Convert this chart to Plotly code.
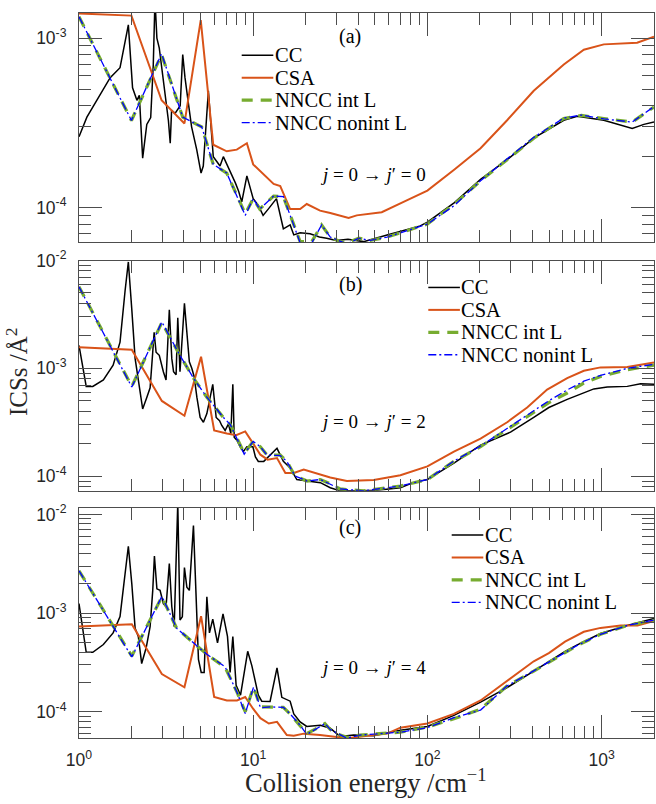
import math
import plotly.graph_objects as go

SERIF = "Liberation Serif"
SANS = "Liberation Sans"

# ---- panel (a): j=0 -> j'=0 ----
e_cc_a = [1.0, 1.11, 1.51, 1.72, 1.92, 2.03, 2.15, 2.22, 2.32, 2.45, 2.58, 2.67, 2.73, 2.80, 2.89,
          3.19, 3.26, 3.34, 3.4, 3.56, 3.81, 3.94, 4.06, 4.25, 4.43, 4.74, 5.02, 5.17, 5.41, 5.53,
          5.9, 6.45, 6.74, 7.54, 7.9, 8.25, 8.6, 9.2, 10.0, 10.7, 11.4, 12.2, 13.6, 14.9, 16.3,
          17.1, 18.6, 21.2, 24, 26.4, 30, 35, 43, 58.7, 73, 91, 100, 143, 202, 287, 408, 607,
          725, 1030, 1500, 1750, 2000]
s_cc_a = [2.62e-4, 3.42e-4, 5.85e-4, 6.7e-4, 1.2e-3, 5.1e-4, 4.3e-4, 4.6e-4, 1.96e-4, 3.1e-4,
          3.4e-4, 7.0e-4, 1.7e-3, 1.0e-3, 8.75e-4, 3.9e-4, 3.27e-4, 2.4e-4, 3.75e-4, 3.6e-4,
          4.0e-4, 8.0e-4, 5.85e-4, 4.1e-4, 3.0e-4, 2.2e-4, 1.6e-4, 1.76e-4, 3.4e-4, 4.9e-4,
          2.0e-4, 1.76e-4, 2.0e-4, 1.57e-4, 1.4e-4, 1.25e-4, 1.08e-4, 1.54e-4, 1.13e-4, 1.03e-4,
          9.0e-5, 9.8e-5, 1.13e-4, 7.5e-5, 7.9e-5, 6.9e-5, 7.1e-5, 7.0e-5, 6.7e-5, 6.6e-5,
          6.4e-5, 6.5e-5, 6.3e-5, 6.9e-5, 7.3e-5, 7.8e-5, 8.2e-5, 1.07e-4, 1.47e-4, 1.92e-4,
          2.57e-4, 3.28e-4, 3.46e-4, 3.28e-4, 2.93e-4, 3.1e-4, 3.2e-4]

e_csa_a = [1.0, 2.0, 2.98, 4.03, 5.0, 5.9, 7.05, 8.05, 9.2, 10.0, 13.1, 14.3, 16.3, 18.6, 20.3,
           24.2, 27.7, 35.3, 39.3, 54.7, 73, 100, 143, 202, 287, 408, 607, 791, 1030, 1600, 2000]
s_csa_a = [1.4e-3, 1.36e-3, 4.3e-4, 3.14e-4, 1.28e-3, 2.35e-4, 2.15e-4, 2.2e-4, 2.4e-4, 1.8e-4,
           1.38e-4, 1.34e-4, 9.8e-5, 9.8e-5, 1.05e-4, 9.6e-5, 9.3e-5, 8.7e-5, 9.0e-5, 9.4e-5,
           1.08e-4, 1.26e-4, 1.68e-4, 2.24e-4, 3.28e-4, 4.9e-4, 7.0e-4, 8.55e-4, 9.2e-4, 9.4e-4,
           1.02e-3]

e_nn_a = [1.0, 2.0, 2.98, 3.64, 3.94, 4.74, 5.06, 5.9, 7.05, 9.0, 10.0, 10.9, 13.1, 14.9, 17.1,
          18.6, 21.7, 24.7, 27.7, 31.5, 34.5, 40.4, 47, 58.7, 73, 100, 143, 202, 287, 408, 607,
          766, 1030, 1500, 2000]
s_int_a = [1.34e-3, 3.27e-4, 8.0e-4, 4.3e-4, 3.42e-4, 3.1e-4, 3.0e-4, 1.8e-4, 1.6e-4, 9.2e-5,
           1.13e-4, 9.8e-5, 1.17e-4, 1.16e-4, 7.9e-5, 6.3e-5, 6.3e-5, 7.9e-5, 6.7e-5, 6.3e-5,
           6.2e-5, 6.6e-5, 6.4e-5, 6.7e-5, 7.2e-5, 8.0e-5, 1.05e-4, 1.44e-4, 1.92e-4, 2.57e-4,
           3.36e-4, 3.5e-4, 3.36e-4, 3.2e-4, 3.93e-4]
s_nonint_a = [1.34e-3, 3.27e-4, 8.1e-4, 4.3e-4, 3.42e-4, 3.1e-4, 3.0e-4, 1.8e-4, 1.6e-4, 9.0e-5,
              1.13e-4, 9.8e-5, 1.17e-4, 1.16e-4, 7.9e-5, 6.2e-5, 6.2e-5, 7.9e-5, 6.7e-5, 6.3e-5,
              6.1e-5, 6.6e-5, 6.4e-5, 6.7e-5, 7.2e-5, 8.0e-5, 1.03e-4, 1.44e-4, 1.94e-4, 2.6e-4,
              3.38e-4, 3.52e-4, 3.34e-4, 3.2e-4, 3.95e-4]

# ---- panel (b): j=0 -> j'=2 ----
e_cc_b = [1.0, 1.1, 1.2, 1.38, 1.57, 1.72, 1.84, 1.92, 2.01, 2.1, 2.21, 2.32, 2.45, 2.56, 2.65,
          2.70, 2.77, 2.89, 3.05, 3.16, 3.3, 3.41, 3.49, 3.61, 3.69, 3.8, 4.03, 4.16, 4.3, 4.44,
          4.58, 4.75, 4.96, 5.18, 5.42, 5.86, 6.13, 6.41, 6.6, 6.9, 7.21, 7.44, 7.64, 7.78, 8.06,
          8.42, 8.79, 9.2, 9.96, 10.3, 10.7, 11.5, 12.0, 13.7, 14.9, 16.3, 17.8, 20.4, 24.3,
          27.7, 31.6, 41.2, 51.4, 70, 83, 100, 142, 202, 300, 408, 498, 635, 903, 1078, 1404,
          1675, 2000]
s_cc_b = [1.63e-3, 6.8e-4, 6.8e-4, 7.8e-4, 1.07e-3, 1.75e-3, 5.3e-3, 9.7e-3, 3.5e-3, 1.23e-3,
          7.1e-4, 4.2e-4, 5.37e-4, 6.6e-4, 1.41e-3, 2.16e-3, 1.41e-3, 1.32e-3, 9.3e-4, 7.8e-4,
          3.5e-3, 1.23e-3, 9.3e-4, 8.7e-4, 2.95e-3, 9.3e-4, 4.0e-3, 2.0e-3, 1.15e-3, 1.0e-3,
          8.4e-4, 5.4e-4, 3.5e-4, 3.16e-4, 3.8e-4, 7.1e-4, 3.5e-4, 3.27e-4, 2.95e-4, 2.65e-4,
          3.05e-4, 2.48e-4, 7.1e-4, 2.3e-4, 2.15e-4, 1.87e-4, 1.69e-4, 1.87e-4, 1.87e-4,
          1.51e-4, 1.37e-4, 1.37e-4, 1.47e-4, 1.81e-4, 1.37e-4, 1.19e-4, 9.3e-5, 9.0e-5, 8.7e-5,
          7.8e-5, 7.3e-5, 7.3e-5, 7.4e-5, 7.8e-5, 8.7e-5, 9.3e-5, 1.32e-4, 1.94e-4, 2.56e-4,
          3.5e-4, 4.33e-4, 5.15e-4, 6.44e-4, 6.7e-4, 6.8e-4, 7.2e-4, 7.1e-4]

e_csa_b = [1.0, 2.01, 2.99, 4.03, 5.02, 5.97, 7.06, 7.98, 9.0, 9.96, 11.0, 12.1, 13.7, 15.3, 17.1,
           19.5, 24.2, 27.7, 34.5, 49.2, 70, 100, 142, 202, 287, 374, 487, 635, 791, 986, 1404,
           1675, 2000]
s_csa_b = [1.57e-3, 1.49e-3, 4.98e-4, 3.63e-4, 1.28e-3, 2.65e-4, 2.48e-4, 2.4e-4, 2.6e-4, 2.0e-4,
           1.58e-4, 1.42e-4, 1.47e-4, 1.07e-4, 1.07e-4, 1.15e-4, 1.04e-4, 9.7e-5, 9.0e-5, 9.2e-5,
           1.02e-4, 1.23e-4, 1.69e-4, 2.23e-4, 3.16e-4, 4.33e-4, 6.35e-4, 8.1e-4, 9.5e-4,
           1.02e-3, 1.03e-3, 1.07e-3, 1.13e-3]

e_nn_b = [1.0, 2.01, 2.99, 3.7, 4.54, 5.42, 6.75, 7.4, 8.88, 10.0, 11.0, 12.0, 14.3, 15.6, 17.4,
          20.4, 24.3, 27.7, 31.6, 43, 51.4, 70, 100, 142, 202, 300, 408, 498, 635, 791, 986,
          1404, 2000]
s_int_b = [5.7e-3, 6.8e-4, 2.66e-3, 1.42e-3, 8.1e-4, 5.4e-4, 3.5e-4, 3.0e-4, 1.63e-4, 2.1e-4,
           1.87e-4, 1.57e-4, 1.57e-4, 1.37e-4, 1.0e-4, 9.0e-5, 9.3e-5, 8.5e-5, 7.6e-5, 7.3e-5,
           7.6e-5, 8.1e-5, 9.3e-5, 1.37e-4, 1.88e-4, 2.85e-4, 3.9e-4, 4.8e-4, 5.9e-4, 7.3e-4,
           8.4e-4, 9.7e-4, 1.07e-3]
s_nonint_b = [5.7e-3, 6.7e-4, 2.7e-3, 1.42e-3, 8.1e-4, 5.4e-4, 3.5e-4, 3.0e-4, 1.6e-4, 2.1e-4,
              1.87e-4, 1.57e-4, 1.55e-4, 1.37e-4, 1.0e-4, 9.0e-5, 9.3e-5, 8.4e-5, 7.6e-5, 7.3e-5,
              7.6e-5, 8.1e-5, 9.3e-5, 1.38e-4, 1.9e-4, 2.9e-4, 4.1e-4, 5.0e-4, 6.3e-4, 7.6e-4,
              8.6e-4, 1.0e-3, 1.09e-3]

# ---- panel (c): j=0 -> j'=4 ----
e_cc_c = [1.0, 1.1, 1.2, 1.38, 1.57, 1.72, 1.81, 1.92, 2.01, 2.1, 2.19, 2.29, 2.43, 2.56, 2.65,
          2.71, 2.8, 2.92, 3.05, 3.16, 3.3, 3.41, 3.52, 3.69, 3.8, 3.92, 4.03, 4.16, 4.3, 4.54,
          4.85, 5.03, 5.23, 5.42, 5.61, 5.86, 6.24, 6.71, 7.12, 7.37, 7.64, 7.98, 8.46, 9.3,
          9.83, 10.7, 11.2, 12.5, 13.7, 14.6, 16.3, 17.1, 18.6, 20.3, 24.3, 27.7, 31.6, 37.7,
          49, 70, 100, 142, 202, 287, 408, 498, 617, 725, 986, 1404, 2000]
s_cc_c = [1.25e-3, 4.0e-4, 4.0e-4, 4.8e-4, 6.3e-4, 9.2e-4, 1.98e-3, 4.76e-3, 1.98e-3, 7.0e-4,
          5.8e-4, 3.08e-4, 4.45e-4, 7.3e-4, 1.69e-3, 3.79e-3, 1.76e-3, 1.7e-3, 1.25e-3, 1.16e-3,
          3.18e-3, 1.16e-3, 7.3e-4, 1.3e-2, 8.5e-4, 9.2e-4, 2.9e-3, 1.83e-3, 1.7e-3, 7.7e-3,
          3.4e-4, 2.5e-4, 2.5e-4, 1.46e-3, 6.3e-4, 8.7e-4, 5.0e-4, 9.8e-4, 5.8e-4, 2.5e-4,
          5.8e-4, 1.85e-4, 1.47e-4, 4.1e-4, 2.92e-4, 1.47e-4, 1.28e-4, 1.27e-4, 2.79e-4, 1.4e-4,
          1.28e-4, 9.5e-5, 7.9e-5, 7.1e-5, 7.3e-5, 6.8e-5, 5.6e-5, 5.8e-5, 5.7e-5, 6.5e-5,
          7.1e-5, 9.2e-5, 1.25e-4, 1.76e-4, 2.58e-4, 3.25e-4, 4.08e-4, 4.76e-4, 6.2e-4, 7.5e-4,
          8.8e-4]

e_csa_c = [1.0, 2.01, 2.99, 4.03, 5.02, 5.97, 7.06, 8.07, 9.0, 9.96, 11, 12.3, 13.7, 15.6, 17.1,
           19.5, 24.2, 34.5, 58.7, 70, 100, 142, 202, 287, 408, 498, 617, 791, 986, 1290, 1607,
           2000]
s_csa_c = [7.3e-4, 7.7e-4, 2.41e-4, 1.77e-4, 9.3e-4, 1.41e-4, 1.3e-4, 1.3e-4, 1.41e-4, 1.08e-4,
           8.6e-5, 7.6e-5, 7.9e-5, 5.8e-5, 5.7e-5, 6.0e-5, 5.8e-5, 5.4e-5, 6.0e-5, 6.9e-5,
           7.6e-5, 9.5e-5, 1.3e-4, 2.05e-4, 3.25e-4, 3.93e-4, 5.14e-4, 6.47e-4, 7.08e-4, 7.5e-4,
           7.5e-4, 8.3e-4]

e_nn_c = [1.0, 2.01, 2.99, 3.64, 4.54, 5.42, 6.9, 8.07, 9.0, 10.05, 11, 12.6, 14.9, 16.3, 18.6,
          20.3, 24.3, 25.8, 27.7, 31.6, 34.5, 41, 58.7, 70, 100, 142, 202, 287, 408, 498, 617,
          725, 986, 1404, 2000]
s_int_c = [2.68e-3, 3.67e-4, 1.46e-3, 7.0e-4, 5.0e-4, 3.82e-4, 2.82e-4, 1.58e-4, 1.0e-4, 1.78e-4,
           1.12e-4, 1.12e-4, 1.11e-4, 9.5e-5, 7.3e-5, 6.0e-5, 7.1e-5, 7.6e-5, 6.6e-5, 5.8e-5,
           5.5e-5, 5.8e-5, 6.1e-5, 6.2e-5, 7.0e-5, 8.5e-5, 1.06e-4, 1.83e-4, 2.58e-4, 3.2e-4,
           4.0e-4, 4.7e-4, 6.1e-4, 7.5e-4, 8.45e-4]
s_nonint_c = [2.68e-3, 3.6e-4, 1.48e-3, 7.0e-4, 5.0e-4, 3.82e-4, 2.85e-4, 1.58e-4, 9.6e-5, 1.78e-4,
              1.1e-4, 1.12e-4, 1.11e-4, 9.5e-5, 7.3e-5, 5.9e-5, 7.1e-5, 7.6e-5, 6.6e-5, 5.8e-5,
              5.4e-5, 5.8e-5, 6.1e-5, 6.2e-5, 6.9e-5, 8.7e-5, 1.04e-4, 1.83e-4, 2.6e-4, 3.2e-4,
              4.0e-4, 4.7e-4, 6.1e-4, 7.5e-4, 8.5e-4]

series_names = ["CC", "CSA", "NNCC int L", "NNCC nonint L"]
panel_labels = ["(a)", "(b)", "(c)"]
transition_labels = ["<i>j</i> = 0 → <i>j</i>′ = 0", "<i>j</i> = 0 → <i>j</i>′ = 2",
                     "<i>j</i> = 0 → <i>j</i>′ = 4"]
x_tickvals = [1, 10, 100, 1000]
x_ticktext = ["10<sup>0</sup>", "10<sup>1</sup>", "10<sup>2</sup>", "10<sup>3</sup>"]

W, H = 656, 804
ML, MR, MT, MB = 79, 2, 1, 66


def px2x(px):
    return (px - ML) / (W - ML - MR)


def py2y(py):
    return (H - MB - py) / (H - MT - MB)


STYLES = [
    dict(color="black", width=1.5),
    dict(color="#D95319", width=2),
    dict(color="#77AC30", width=3.2, dash="11px,8px"),
    dict(color="#0000FF", width=1.3, dash="8px,3px,2px,3px"),
]

# layout per panel: y range (log10), tick values, domain, legend anchor (px), label (px), text (px)
panels = [
    dict(cc=(e_cc_a, s_cc_a), csa=(e_csa_a, s_csa_a), nn=e_nn_a, nint=s_int_a, nnon=s_nonint_a,
         yr=[-4.204, -2.851], yt=[1e-4, 1e-3], dom=[0.6839, 1.0],
         leg=(241.7, 44.0), lab=(350, 25), tr=(428, 165)),
    dict(cc=(e_cc_b, s_cc_b), csa=(e_csa_b, s_csa_b), nn=e_nn_b, nint=s_int_b, nnon=s_nonint_b,
         yr=[-4.136, -2.0], yt=[1e-4, 1e-3, 1e-2], dom=[0.341, 0.6586],
         leg=(428.3, 280.0), lab=(350.5, 277.5), tr=(428, 416.5)),
    dict(cc=(e_cc_c, s_cc_c), csa=(e_csa_c, s_csa_c), nn=e_nn_c, nint=s_int_c, nnon=s_nonint_c,
         yr=[-4.266, -1.93], yt=[1e-4, 1e-3, 1e-2], dom=[0.0, 0.3179],
         leg=(451.7, 531.7), lab=(350, 524), tr=(428, 666.5)),
]

AX = "#4d4d4d"
x_minor = [m * 10 ** k for k in range(0, 4) for m in range(2, 10)]
y_minor = [m * 10.0 ** k for k in range(-5, -1) for m in range(2, 10)]

fig = go.Figure()
layout = {}
shapes = []
annotations = []
for i, p in enumerate(panels):
    n = "" if i == 0 else str(i + 1)
    xa, ya = "x" + n, "y" + n
    data = [p["cc"], p["csa"], (p["nn"], p["nint"]), (p["nn"], p["nnon"])]
    for name, (xs, ys), st in zip(series_names, data, STYLES):
        fig.add_trace(go.Scatter(x=xs, y=ys, mode="lines", name=name, line=st,
                                 xaxis=xa, yaxis=ya, showlegend=False))

    layout["xaxis" + n] = dict(
        type="log", range=[0, 3.301], domain=[0, 1], anchor=ya,
        showline=True, linecolor=AX, linewidth=1, mirror="allticks",
        ticks="inside", ticklen=23, tickcolor=AX, tickwidth=1,
        tickmode="array", tickvals=x_tickvals, ticktext=x_ticktext,
        showticklabels=(i == 2), ticklabelstandoff=6,
        tickfont=dict(family=SANS, size=17.5, color="#262626"),
        minor=dict(ticks="inside", ticklen=12, tickcolor=AX, tickwidth=1,
                   tickmode="array", tickvals=x_minor, showgrid=False),
        showgrid=False, zeroline=False)
    layout["yaxis" + n] = dict(
        type="log", range=p["yr"], domain=p["dom"], anchor=xa,
        showline=True, linecolor=AX, linewidth=1, mirror="allticks",
        ticks="inside", ticklen=23, tickcolor=AX, tickwidth=1,
        tickmode="array", tickvals=p["yt"],
        ticktext=["10<sup>%d</sup>" % round(math.log10(v)) for v in p["yt"]],
        ticklabelstandoff=8,
        tickfont=dict(family=SANS, size=17.5, color="#262626"),
        minor=dict(ticks="inside", ticklen=12, tickcolor=AX, tickwidth=1,
                   tickmode="array", tickvals=y_minor, showgrid=False),
        showgrid=False, zeroline=False)

    # legend box drawn per panel (sample line + label)
    lx, ly = p["leg"]
    for k, (name, st) in enumerate(zip(series_names, STYLES)):
        yy = py2y(ly + 22.8 * k)
        shapes.append(dict(type="line", xref="paper", yref="paper",
                           x0=px2x(lx), x1=px2x(lx + 31.6), y0=yy, y1=yy,
                           line=dict(color=st["color"], width=st["width"],
                                     dash=st.get("dash", "solid"))))
        annotations.append(dict(text=name, x=px2x(lx + 31), y=yy, xref="paper", yref="paper",
                                showarrow=False, xanchor="left", yanchor="middle",
                                font=dict(family=SERIF, size=20.5, color="black")))

    annotations.append(dict(text=panel_labels[i], x=px2x(p["lab"][0]), y=py2y(p["lab"][1]),
                            xref="paper", yref="paper", showarrow=False,
                            xanchor="center", yanchor="middle",
                            font=dict(family=SERIF, size=20, color="black")))
    annotations.append(dict(text=transition_labels[i], x=px2x(p["tr"][0]), y=py2y(p["tr"][1]),
                            xref="paper", yref="paper", showarrow=False,
                            xanchor="right", yanchor="middle",
                            font=dict(family=SERIF, size=19, color="black")))

annotations.append(dict(text="Collision energy /cm<sup>−1</sup>", x=px2x(366), y=py2y(782),
                        xref="paper", yref="paper", showarrow=False,
                        xanchor="center", yanchor="middle",
                        font=dict(family=SERIF, size=26.5, color="#262626")))
annotations.append(dict(text="ICSs /Å<sup>2</sup>", x=px2x(17), y=py2y(366),
                        xref="paper", yref="paper", showarrow=False,
                        xanchor="center", yanchor="middle", textangle=-90,
                        font=dict(family=SERIF, size=25, color="#262626")))

fig.update_layout(**layout)
fig.update_layout(shapes=shapes, annotations=annotations, width=W, height=H,
                  margin=dict(l=ML, r=MR, t=MT, b=MB),
                  paper_bgcolor="white", plot_bgcolor="white", showlegend=False)

# page body has a default 8px margin; drop it so the figure sits at the window corner
fig.write_html("out.html", config={"displayModeBar": False},
               post_script="document.body.style.margin = '0';")
